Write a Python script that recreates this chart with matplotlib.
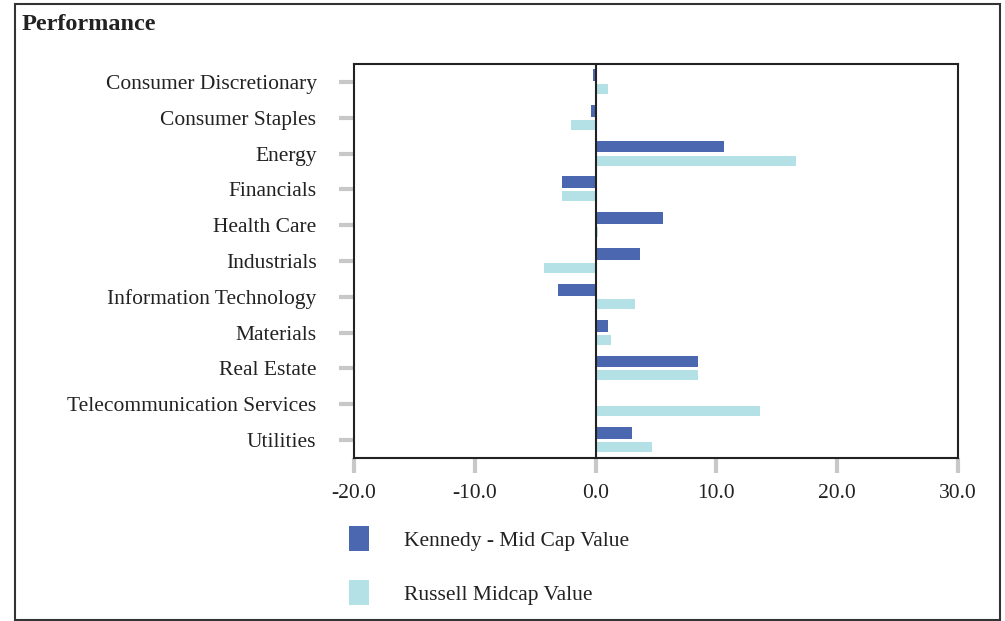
import numpy as np
import matplotlib.pyplot as plt
from matplotlib.patches import Rectangle

categories = ["Consumer Discretionary", "Consumer Staples", "Energy", "Financials",
              "Health Care", "Industrials", "Information Technology", "Materials",
              "Real Estate", "Telecommunication Services", "Utilities"]
kennedy = [-0.2, -0.35, 10.6, -2.8, 5.6, 3.65, -3.15, 1.0, 8.45, 0.15, 3.0]
russell = [1.0, -2.0, 16.6, -2.8, 0.2, -4.3, 3.3, 1.3, 8.45, 13.6, 4.65]
xticks = [-20, -10, 0, 10, 20, 30]

plt.rcParams['font.family'] = ['Liberation Serif', 'DejaVu Serif']
fs = 15.5

fig = plt.figure(figsize=(10.05, 6.21), dpi=100)
ax = fig.add_axes([354/1005, 1 - 458/621, (958-354)/1005, (458-64)/621])

y = np.arange(len(categories))
h = 0.33
ax.barh(y - h/2 - 0.03, kennedy, height=h, color='#4A67B0', label='Kennedy - Mid Cap Value')
ax.barh(y + h/2 + 0.03, russell, height=h*0.85, color='#B4E1E6', label='Russell Midcap Value')
ax.axvline(0, color='#222222', lw=1.5, zorder=3)

ax.set_xlim(-20, 30)
ax.set_ylim(len(categories) - 0.5, -0.5)
ax.set_yticks(y)
ax.set_yticklabels(categories, fontsize=fs, color='#222222')
ax.set_xticks(xticks)
ax.set_xticklabels([f"{v:.1f}" for v in xticks], fontsize=fs, color='#222222')
ax.tick_params(axis='y', length=11, width=3, color='#c8c8c8', pad=16)
ax.tick_params(axis='x', length=11, width=3, color='#c8c8c8', pad=8)
for s in ax.spines.values():
    s.set_linewidth(1.5)
    s.set_color('#222222')

fig.legend(loc='upper left', bbox_to_anchor=(330/1005, 1 - 507/621), frameon=False,
           fontsize=fs, handlelength=0.93, handleheight=1.4, labelspacing=1.35,
           handletextpad=1.6, labelcolor='#222222')

fig.text(22/1005, 1 - 25/621, "Performance", fontsize=17.5, fontweight='bold',
         color='#222222', va='center')
fig.patches.append(Rectangle((15/1005, 0.002), (1000-15)/1005, 1 - 4/621 - 0.002,
                             transform=fig.transFigure, fill=False,
                             edgecolor='#333333', lw=1.5))

fig.savefig('out.png', dpi=100)
